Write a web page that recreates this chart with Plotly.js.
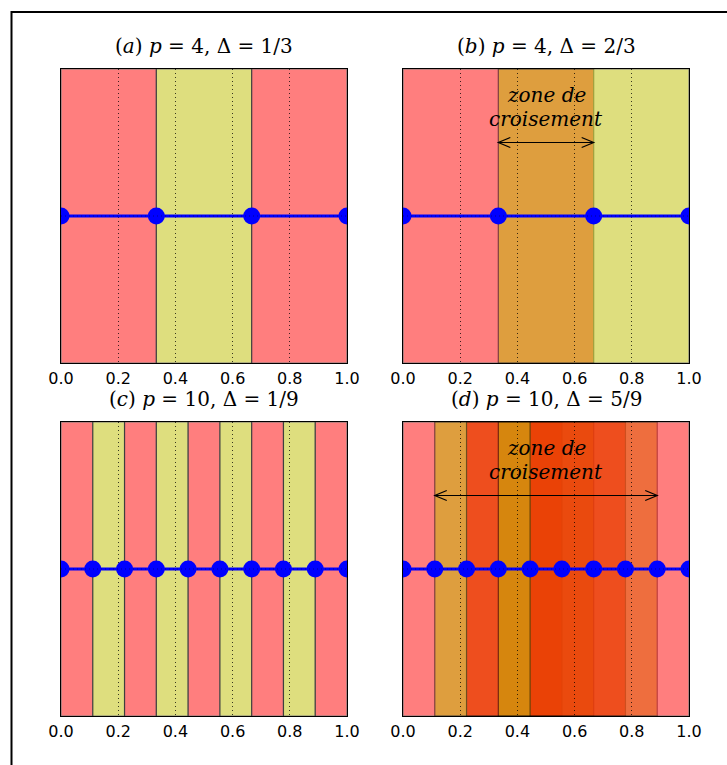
<!DOCTYPE html>
<html>
<head>
<meta charset="utf-8">
<script src="https://cdn.plot.ly/plotly-3.0.1.min.js"></script>
<style>html,body{margin:0;padding:0;background:#fff;}#chart{width:727px;height:765px;}</style>
</head>
<body>
<div id="chart"></div>
<script>
// ---------- data ----------
const panelTitles = [
  "(<i>a</i>) <i>p</i> = 4, \u0394 = 1/3",
  "(<i>b</i>) <i>p</i> = 4, \u0394 = 2/3",
  "(<i>c</i>) <i>p</i> = 10, \u0394 = 1/9",
  "(<i>d</i>) <i>p</i> = 10, \u0394 = 5/9"
];
const pointsA = [0, 0.3333, 0.6667, 1.0];
const pointsB = [0, 0.3333, 0.6667, 1.0];
const pointsC = [0, 0.1111, 0.2222, 0.3333, 0.4444, 0.5556, 0.6667, 0.7778, 0.8889, 1.0];
const pointsD = [0, 0.1111, 0.2222, 0.3333, 0.4444, 0.5556, 0.6667, 0.7778, 0.8889, 1.0];
const lineLevel = 0.5;

const bandStartA = [0, 0.3333, 0.6667];
const bandEndA   = [0.3333, 0.6667, 1.0];
const bandColorA = ["r", "y", "r"];

const bandStartB = [0, 0.3333];
const bandEndB   = [0.6667, 1.0];
const bandColorB = ["r", "y"];

const bandStartC = [0, 0.1111, 0.2222, 0.3333, 0.4444, 0.5556, 0.6667, 0.7778, 0.8889];
const bandEndC   = [0.1111, 0.2222, 0.3333, 0.4444, 0.5556, 0.6667, 0.7778, 0.8889, 1.0];
const bandColorC = ["r", "y", "r", "y", "r", "y", "r", "y", "r"];

const bandStartD = [0, 0.1111, 0.2222, 0.3333, 0.4444];
const bandEndD   = [0.5556, 0.6667, 0.7778, 0.8889, 1.0];
const bandColorD = ["r", "y", "r", "y", "r"];

const arrowB = [0.3333, 0.6667];
const arrowD = [0.1111, 0.8889];
const arrowLevel = 0.75;
const zoneText = ["zone de", "croisement"];

const tickVals = [0, 0.2, 0.4, 0.6, 0.8, 1.0];
const tickText = ["0.0", "0.2", "0.4", "0.6", "0.8", "1.0"];

// ---------- layout geometry ----------
const W = 727, H = 765;
const colPx = [[61, 347], [403, 689]];
const rowPx = [[69, 363], [422, 716]];
const colorMap = {r: "#FF0000", y: "#BFBF00"};

const panels = [
  {pts: pointsA, bs: bandStartA, be: bandEndA, bc: bandColorA, arrow: null},
  {pts: pointsB, bs: bandStartB, be: bandEndB, bc: bandColorB, arrow: arrowB},
  {pts: pointsC, bs: bandStartC, be: bandEndC, bc: bandColorC, arrow: null},
  {pts: pointsD, bs: bandStartD, be: bandEndD, bc: bandColorD, arrow: arrowD}
];

const data = [];
const shapes = [];
const annotations = [];
const layout = {
  width: W, height: H,
  margin: {l: 0, r: 0, t: 0, b: 0, pad: 0},
  paper_bgcolor: "#ffffff",
  plot_bgcolor: "#ffffff",
  showlegend: false,
  font: {family: "DejaVu Sans", color: "#000"}
};

panels.forEach((p, i) => {
  const n = i + 1;
  const sfx = n === 1 ? "" : String(n);
  const xr = "x" + sfx, yr = "y" + sfx;
  const col = colPx[i % 2], row = rowPx[Math.floor(i / 2)];
  const xd = [col[0] / W, col[1] / W];
  const yd = [1 - row[1] / H, 1 - row[0] / H];

  layout["xaxis" + sfx] = {
    domain: xd, anchor: yr, range: [0, 1],
    tickvals: tickVals, ticktext: tickText,
    tickfont: {family: "DejaVu Sans", size: 16, color: "#000"},
    ticks: "", ticklabelstandoff: 1,
    showgrid: true, gridcolor: "rgba(0,0,0,0.75)", griddash: "1px,3px", gridwidth: 1,
    showline: true, mirror: true, linecolor: "#000", linewidth: 1,
    zeroline: false, fixedrange: true
  };
  layout["yaxis" + sfx] = {
    domain: yd, anchor: xr, range: [0, 1],
    showticklabels: false, ticks: "", showgrid: false, zeroline: false,
    showline: true, mirror: true, linecolor: "#000", linewidth: 1, fixedrange: true
  };

  p.bs.forEach((s, k) => {
    shapes.push({
      type: "rect", xref: xr, yref: yr, x0: s, x1: p.be[k], y0: 0, y1: 1,
      fillcolor: colorMap[p.bc[k]], opacity: 0.5,
      line: {color: "#000", width: 1.2}, layer: "below"
    });
  });

  data.push({
    type: "scatter", mode: "lines+markers", xaxis: xr, yaxis: yr,
    x: p.pts, y: p.pts.map(() => lineLevel),
    line: {color: "#0000FF", width: 3},
    marker: {color: "#0000FF", size: 17, line: {width: 0}},
    hoverinfo: "skip", cliponaxis: true
  });
  data.push({
    type: "scatter", mode: "lines", xaxis: xr, yaxis: yr,
    x: p.pts, y: p.pts.map(() => lineLevel),
    line: {color: "#000", width: 1, dash: "1px,3px"}, opacity: 0.4,
    hoverinfo: "skip"
  });

  annotations.push({
    xref: "paper", yref: "paper",
    x: (xd[0] + xd[1]) / 2, y: yd[1] + 23 / H,
    xanchor: "center", yanchor: "middle", showarrow: false,
    text: panelTitles[i],
    font: {family: "DejaVu Serif", size: 20, color: "#000"}
  });

  if (p.arrow) {
    const offs = [26, 50];
    zoneText.forEach((t, k) => {
      annotations.push({
        xref: xr, yref: yr + " domain",
        x: 0.5, y: 1 - offs[k] / (row[1] - row[0]),
        xanchor: "center", yanchor: "middle", showarrow: false,
        text: "<i>" + t + "</i>",
        font: {family: "DejaVu Serif", size: 20, color: "#000"}
      });
    });
    shapes.push({
      type: "line", xref: xr, yref: yr,
      x0: p.arrow[0], x1: p.arrow[1], y0: arrowLevel, y1: arrowLevel,
      line: {color: "#000", width: 1.2}, layer: "above"
    });
    shapes.push({
      type: "path", xref: xr, yref: yr, xsizemode: "pixel", ysizemode: "pixel",
      xanchor: p.arrow[0], yanchor: arrowLevel,
      path: "M12,5 L0,0 L12,-5", line: {color: "#000", width: 1.2}, layer: "above"
    });
    shapes.push({
      type: "path", xref: xr, yref: yr, xsizemode: "pixel", ysizemode: "pixel",
      xanchor: p.arrow[1], yanchor: arrowLevel,
      path: "M-12,5 L0,0 L-12,-5", line: {color: "#000", width: 1.2}, layer: "above"
    });
  }
});

// outer figure frame (only top and left edges are within the image)
shapes.push({
  type: "rect", xref: "paper", yref: "paper",
  x0: 11.5 / W, x1: 1.2, y0: -0.2, y1: 1 - 12 / H,
  line: {color: "#000", width: 2}, fillcolor: "rgba(0,0,0,0)", layer: "above"
});

layout.shapes = shapes;
layout.annotations = annotations;

Plotly.newPlot("chart", data, layout, {displayModeBar: false, staticPlot: true});
</script>
</body>
</html>
